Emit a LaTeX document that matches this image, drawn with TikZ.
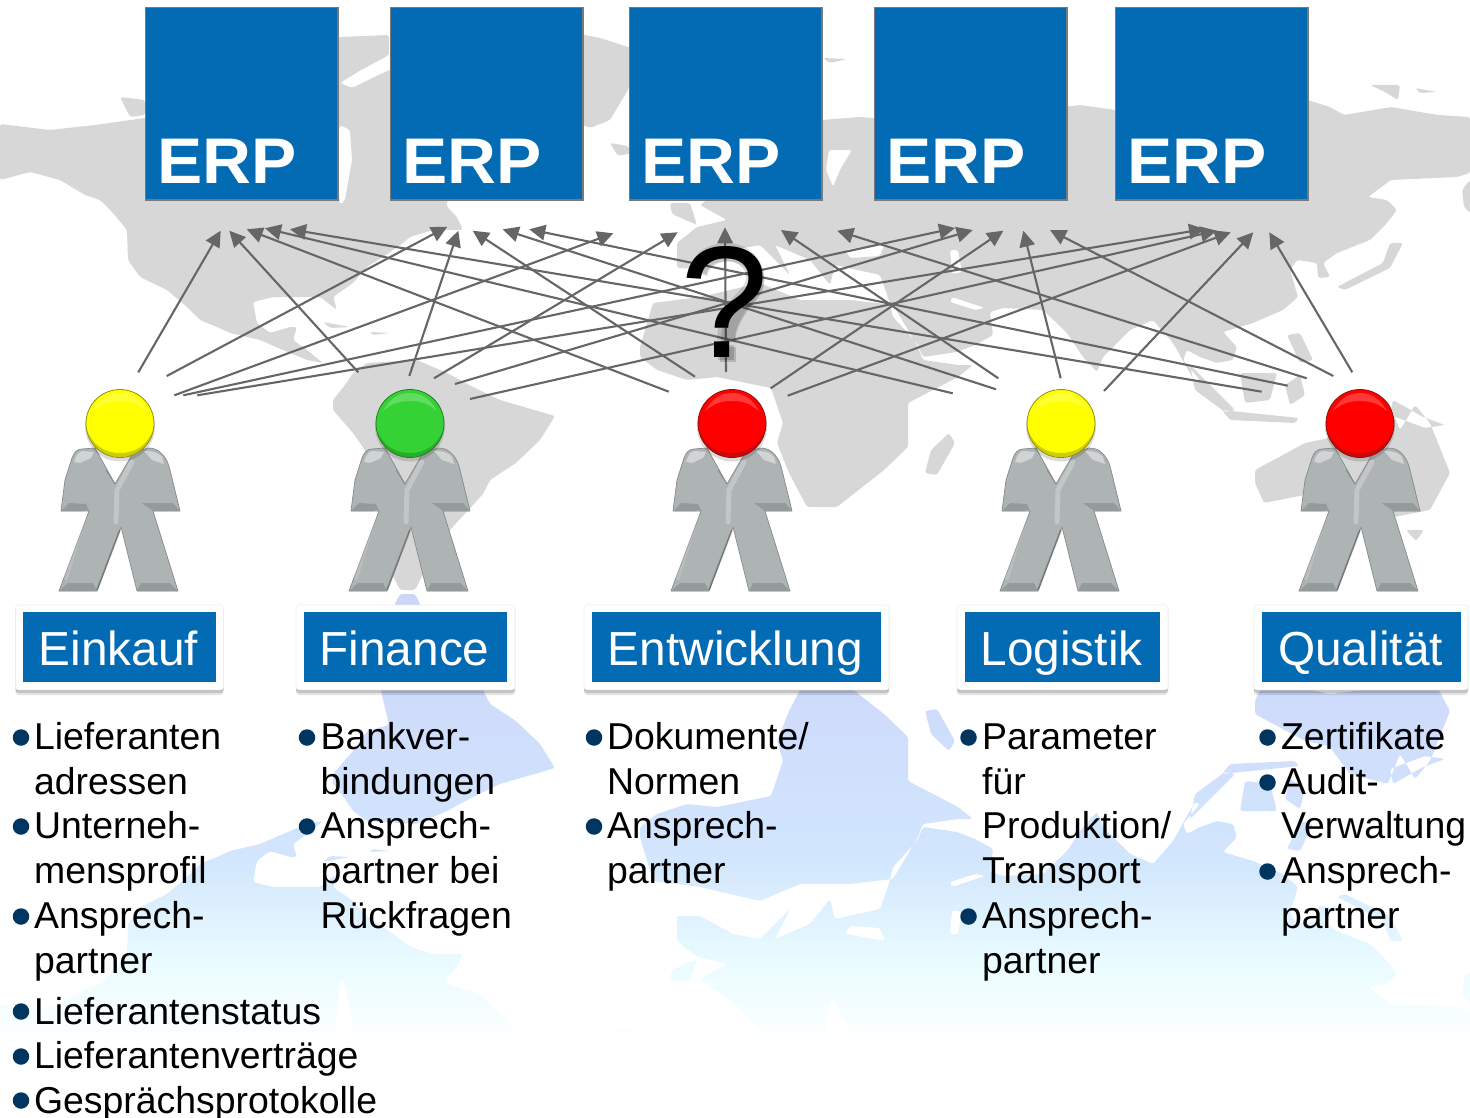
\documentclass[tikz,border=0pt]{standalone}
\usepackage{fontspec}
\setmainfont{Liberation Sans}
\usetikzlibrary{arrows.meta,shadows}
\definecolor{erpblue}{HTML}{036AB4}
\definecolor{mapgray}{HTML}{D7D7D7}
\definecolor{conngray}{HTML}{666666}
\definecolor{bulletblue}{HTML}{003560}
\definecolor{bodygray}{HTML}{AEB3B3}
\definecolor{bodydark}{HTML}{858A8A}
\definecolor{bodylight}{HTML}{D0D4D4}
\definecolor{refa}{HTML}{CCD4FA}
\definecolor{refb}{HTML}{D2E6FD}
\definecolor{refc}{HTML}{EAFCFF}
\newcommand{\mappath}{
 % North America
 (0,124) -- (50,130) -- (95,125) -- (145,118) -- (200,90) -- (300,60) -- (340,37) -- (389,35) -- (389,55) -- (361,70) -- (340,83) -- (352,88) -- (389,70) -- (450,60) -- (500,70) -- (530,100) -- (520,150) -- (480,190) -- (447,200) -- (447,207) -- (457,217) -- (463,230) -- (433,230) -- (410,237) -- (403,243) -- (383,257) -- (367,267) -- (353,283) -- (333,297) -- (337,310) -- (320,297) -- (273,297) -- (253,302) -- (257,323) -- (270,333) -- (290,327) -- (297,327) -- (293,340) -- (307,350) -- (323,363) -- (307,360) -- (283,350) -- (260,340) -- (230,333) -- (217,327) -- (200,320) -- (187,307) -- (167,290) -- (140,277) -- (128,260) -- (127,230) -- (113,213) -- (100,200) -- (85,195) -- (60,180) -- (30,172) -- (0,180) -- cycle
 % Hudson bay
 (340,125) -- (350,130) -- (352,160) -- (345,200) -- (340,205) -- (335,150) -- cycle
 % Arctic islands
 (120,97) -- (145,100) -- (145,115) -- (130,117) -- cycle
 % Greenland
 (560,30) -- (600,38) -- (628,47) -- (640,50) -- (628,90) -- (610,120) -- (590,128) -- (570,120) -- (540,80) -- cycle
 (610,143) -- (628,146) -- (632,153) -- (618,156) -- cycle
 % South America
 (333,400) -- (345,385) -- (353,373) -- (367,363) -- (417,360) -- (447,373) -- (473,387) -- (500,400) -- (555,416) -- (540,440) -- (516,463) -- (490,480) -- (483,494) -- (450,530) -- (430,560) -- (415,590) -- (400,590) -- (385,560) -- (385,520) -- (381,493) -- (389,459) -- (367,453) -- (353,433) -- (333,410) -- cycle
 (323,322) -- (350,327) -- (330,328) -- cycle
 (370,332) -- (390,333) -- (372,335) -- cycle
 % UK
 (670,203) -- (690,203) -- (697,225) -- (672,214) -- cycle
 % Eurasia
 (677,243) -- (697,227) -- (727,220) -- (700,205) -- (735,180) -- (780,130) -- (822,120) -- (860,117) -- (900,120) -- (1000,115) -- (1080,105) -- (1130,112) -- (1200,100) -- (1307,100) -- (1330,107) -- (1344,115) -- (1391,107) -- (1438,115) -- (1470,117) -- (1470,173) -- (1457,177) -- (1391,180) -- (1368,197) -- (1387,200) -- (1397,210) -- (1387,223) -- (1370,240) -- (1337,253) -- (1323,263) -- (1330,277) -- (1318,278) -- (1317,263) -- (1297,260) -- (1290,270) -- (1298,297) -- (1283,310) -- (1253,323) -- (1223,332) -- (1237,347) -- (1233,360) -- (1217,363) -- (1200,357) -- (1187,350) -- (1183,360) -- (1200,380) -- (1195,382) -- (1173,343) -- (1153,320) -- (1130,330) -- (1103,357) -- (1097,372) -- (1083,357) -- (1067,333) -- (1043,310) -- (1003,308) -- (990,312) -- (993,335) -- (975,345) -- (957,352) -- (923,357) -- (917,343) -- (893,317) -- (888,297) -- (880,275) -- (835,265) -- (830,285) -- (810,260) -- (775,245) -- (790,275) -- (760,245) -- (733,250) -- (700,268) -- (677,268) -- cycle
 % Caspian, Black Sea, Persian Gulf, Baltic
 (950,250) -- (958,250) -- (962,272) -- (952,274) -- cycle
 (845,250) -- (885,243) -- (880,256) -- (850,258) -- cycle
 (952,297) -- (985,308) -- (975,310) -- (950,302) -- cycle
 (829,150) -- (852,150) -- (840,170) -- (833,187) -- (826,170) -- cycle
 % Kamchatka side
 (1470,180) -- (1470,213) -- (1464,207) -- (1462,190) -- cycle
 % Novaya Zemlya and Arctic islands
 (823,58) -- (847,59) -- (830,63) -- cycle
 (1370,85) -- (1400,85) -- (1398,100) -- (1385,92) -- cycle
 (1415,88) -- (1437,92) -- (1420,93) -- cycle
 % Africa
 (640,347) -- (653,303) -- (700,297) -- (760,283) -- (800,300) -- (850,300) -- (893,305) -- (917,345) -- (923,360) -- (958,365) -- (973,365) -- (958,377) -- (908,403) -- (908,447) -- (884,470) -- (837,507) -- (807,507) -- (789,473) -- (777,443) -- (783,423) -- (771,388) -- (717,377) -- (687,380) -- (657,370) -- (640,357) -- cycle
 % Madagascar
 (949,433) -- (955,443) -- (937,475) -- (925,473) -- (931,450) -- cycle
 % Japan
 (1337,287) -- (1383,263) -- (1390,243) -- (1403,243) -- (1390,268) -- (1345,290) -- cycle
 % Indonesia, Philippines, New Guinea
 (1240,373) -- (1277,373) -- (1270,400) -- (1245,403) -- cycle
 (1190,365) -- (1225,400) -- (1235,410) -- (1225,412) -- (1195,390) -- cycle
 (1222,410) -- (1299,418) -- (1295,423) -- (1230,420) -- cycle
 (1287,335) -- (1300,333) -- (1313,360) -- (1300,363) -- cycle
 (1285,385) -- (1300,375) -- (1305,395) -- (1290,405) -- cycle
 (1393,400) -- (1423,417) -- (1445,425) -- (1425,428) -- (1390,415) -- cycle
 % Australia
 (1255,470) -- (1305,443) -- (1329,438) -- (1350,410) -- (1388,400) -- (1400,430) -- (1415,405) -- (1430,423) -- (1450,473) -- (1430,510) -- (1394,517) -- (1370,495) -- (1330,490) -- (1264,503) -- (1255,483) -- cycle
 (1406,530) -- (1424,530) -- (1416,541) -- cycle
}
\newcommand{\figbody}[1]{%
\begin{scope}[shift={(#1,0)}]
 \path[fill=bodygray,draw=bodydark,line width=.7pt,line join=round]
  (-25,448) -- (-5,484) -- (13,453) -- (28,448) to[out=0,in=130] (43,455) to[out=-50,in=105] (50,470) -- (60,511) -- (33,511) -- (58,591) -- (17,591) -- (1,527) -- (-23,591) -- (-61,591) -- (-31,511) -- (-59,511) -- (-55,480) -- (-48,458) to[out=70,in=180] (-38,449) -- cycle;
 \fill[bodydark!60!bodygray] (-59,511) -- (-31,511) -- (-34,504) -- (-51,503) -- cycle;
 \fill[bodydark!60!bodygray] (60,511) -- (33,511) -- (22,503) -- (53,503) -- cycle;
 \fill[bodydark!60!bodygray] (-61,591) -- (-23,591) -- (-27,583) -- (-52,583) -- cycle;
 \fill[bodydark!60!bodygray] (58,591) -- (17,591) -- (21,583) -- (50,583) -- cycle;
 \fill[bodylight] (-46,462) to[out=70,in=180] (-37,451) -- (-26,452) -- (-29,458) -- (-40,463) -- cycle;
 \fill[bodylight] (24,451) to[out=0,in=130] (42,457) -- (44,464) -- (32,460) -- cycle;
 \draw[white,opacity=.25,line width=5pt,line cap=round] (12,462) -- (-3,490) -- (-4,522);
 \draw[white,opacity=.15,line width=4pt,line cap=round] (-34,512) -- (-54,578);
 \draw[black,opacity=.22,line width=2pt] (-23,590) -- (0,530);
 \draw[bodydark,line width=.8pt] (-5,484) -- (-14,470);
\end{scope}}
\newcommand{\tline}[4]{\node[itemtext] (#1) at (#2-.6,#3-1) {#4};}
\newcommand{\bul}[3]{\node[bulletdot] (#1) at (#2,#3-.5) {};}
\tikzset{
 erpbox/.style={draw=gray!95!black,line width=1.4pt,fill=erpblue,inner sep=0pt,minimum width=192.4pt,minimum height=192.4pt,anchor=north west},
 erptext/.style={anchor=base west,inner sep=0pt,text=white,font=\fontsize{64.5pt}{66pt}\selectfont\bfseries},
 conn/.style={draw=conngray,line width=2.1pt,-{Triangle[length=16pt,width=15.5pt]}},
 softshadow/.style={drop shadow={shadow xshift=0pt,shadow yshift=-1pt,fill=black,opacity=.14},drop shadow={shadow xshift=0pt,shadow yshift=-3pt,fill=black,opacity=.14},drop shadow={shadow xshift=0pt,shadow yshift=-5pt,fill=black,opacity=.10}},
 outerbox/.style={fill=white,draw=black!7,line width=.6pt,rounded corners=3pt,inner sep=0pt,softshadow},
 labelbox/.style={fill=erpblue,inner sep=0pt,text=white,font=\fontsize{47.8pt}{50pt}\selectfont,text height=53pt,text depth=16.6pt,align=center},
 itemtext/.style={anchor=base west,inner sep=0pt,font=\fontsize{37.4pt}{44pt}\selectfont},
 bulletdot/.style={fill=bulletblue,circle,inner sep=0pt,minimum size=16.5pt},
 headball/.style={circle,inner sep=0pt,minimum size=68pt,line width=.8pt},
}
\begin{document}
\begin{tikzpicture}[x=1pt,y=-1pt]
\useasboundingbox (0,0) rectangle (1470,1118);
% map
\fill[mapgray,even odd rule,rounded corners=2.5pt] \mappath;
\begin{scope}[even odd rule,rounded corners=2.5pt,shift={(0,1184)},yscale=-1]
 \clip \mappath;
 \begin{scope}[sharp corners]
 \shade[top color=refa,bottom color=refb] (0,594) rectangle (1470,324);
 \shade[top color=refb,bottom color=refc] (0,324) rectangle (1470,219);
 \shade[top color=refc,bottom color=white] (0,219) rectangle (1470,139);
 \end{scope}
\end{scope}
% ERP boxes
\node[erpbox] (b1) at (145,7) {};
\node[erpbox] (b2) at (390,7) {};
\node[erpbox] (b3) at (629,7) {};
\node[erpbox] (b4) at (874,7) {};
\node[erpbox] (b5) at (1115,7) {};
\node[erptext] (et1) at (157,184) {\scalebox{1.05}[1]{ERP}};
\node[erptext] (et2) at (402,184) {\scalebox{1.05}[1]{ERP}};
\node[erptext] (et3) at (641,184) {\scalebox{1.05}[1]{ERP}};
\node[erptext] (et4) at (886,184) {\scalebox{1.05}[1]{ERP}};
\node[erptext] (et5) at (1127,184) {\scalebox{1.05}[1]{ERP}};
% connectors
\foreach \i/\j/\a/\b/\c/\d in {
 1/1/138.3/372.3/220.7/230.7, 1/2/166.7/376/447.3/226.7, 1/3/174.3/395.3/613.3/233.3, 1/4/183.3/395.3/955/228, 1/5/197.3/395.3/1205/229,
 2/1/358.3/372.3/229.3/230.7, 2/2/409.3/376/458.3/230.7, 2/3/434/378.3/677.7/232.3, 2/4/455/384/972.7/230, 2/5/470/399/1216.7/230.7,
 3/1/668.7/391.7/246.7/229.3, 3/2/695/376.7/472.7/230.7, 3/3/726/372/725/227.3, 3/4/770.7/388.3/1003.3/230.7, 3/5/787.7/395.7/1230.7/232.3,
 4/1/952.7/393.3/265/228.3, 4/2/996/389.3/502.7/229.3, 4/3/998.3/378.3/781/230, 4/4/1060.7/378.3/1023.3/230.7, 4/5/1104/391/1253.3/232.3,
 5/1/1261.7/391.7/290/229.3, 5/2/1287.7/385.7/529.3/229.3, 5/3/1306.7/378.3/837.3/230.7, 5/4/1333.3/376/1050/230, 5/5/1352.3/372.3/1269.3/232.3}{
 \coordinate (s\i\j) at (\a,\b);
 \coordinate (e\i\j) at (\c,\d);
 \draw[conn] (s\i\j) -- (e\i\j);
}
% question mark with a soft shadow
\foreach \o/\w in {2/18,4/15}{
 \begin{scope}[shift={(\o,\o)}]
 \draw[black,opacity=.13,line width=\w pt] (696,270) to[out=80,in=180] (725,250) to[out=0,in=90] (753,276) to[out=-90,in=60] (735,306) to[out=-120,in=90] (724,338);
 \fill[black,opacity=.16] (716,343) rectangle (732,358);
 \end{scope}
}
\node[anchor=base,inner sep=0pt,text=black,font=\fontsize{159pt}{159pt}\selectfont] (qm) at (724.5,357.5) {?};
% people
\figbody{120}\figbody{410}\figbody{732}\figbody{1061}\figbody{1360}
\foreach \n/\x/\c/\d in {1/120/FFFF00/8F8F10, 2/410/35D235/1E7F1E, 3/732/FF0000/8F1010, 4/1061/FFFF00/8F8F10, 5/1360/FF0000/8F1010}{
 \definecolor{hc}{HTML}{\c}\definecolor{hd}{HTML}{\d}
 \fill[black,opacity=.14] (\x,426.5) circle[radius=35];
 \node[headball,fill=hc,draw=hd] (h\n) at (\x,423.5) {};
 \fill[hd,opacity=.45] (\x-33,430) to[out=-80,in=180] (\x,457) to[out=0,in=-100] (\x+33,430) to[out=-110,in=0] (\x,453) to[out=180,in=-70] (\x-33,430) -- cycle;
 \fill[white,opacity=.22] (\x-27,411) to[out=60,in=180] (\x,393) to[out=0,in=120] (\x+27,411) to[out=140,in=0] (\x,401) to[out=180,in=40] (\x-27,411) -- cycle;
}
% labels
\node[outerbox,minimum width=208pt,minimum height=85pt] (o1) at (119.5,647.5) {};
\node[outerbox,minimum width=219pt,minimum height=85pt] (o2) at (405.5,647.5) {};
\node[outerbox,minimum width=305pt,minimum height=85pt] (o3) at (736.5,647.5) {};
\node[outerbox,minimum width=211pt,minimum height=85pt] (o4) at (1062.5,647.5) {};
\node[outerbox,minimum width=214pt,minimum height=85pt] (o5) at (1361,647.5) {};
\node[labelbox,minimum width=192.6pt] (l1) at (119.3,646.8) {\hspace*{-2pt}Einkauf};
\node[labelbox,minimum width=203pt] (l2) at (405.5,646.8) {\hspace*{-2pt}Finance};
\node[labelbox,minimum width=289pt] (l3) at (736.5,646.8) {\hspace*{-2pt}Entwicklung};
\node[labelbox,minimum width=195pt] (l4) at (1062.5,646.8) {\hspace*{-2pt}Logistik};
\node[labelbox,minimum width=199pt] (l5) at (1361.5,646.8) {\hspace*{-2pt}Qualität};
% Einkauf list
\bul{a1}{21}{738}\bul{a2}{21}{827}\bul{a3}{21}{917}\bul{a4}{21}{1012}\bul{a5}{21}{1057}\bul{a6}{21}{1101}
\tline{ta1}{34.5}{750}{Lieferanten}
\tline{ta2}{34.5}{795}{adressen}
\tline{ta3}{34.5}{839}{Unterneh-}
\tline{ta4}{34.5}{884}{mensprofil}
\tline{ta5}{34.5}{929}{Ansprech-}
\tline{ta6}{34.5}{974}{partner}
\tline{ta7}{34.5}{1025}{Lieferantenstatus}
\tline{ta8}{34.5}{1069}{Lieferantenverträge}
\tline{ta9}{34.5}{1114}{Gesprächsprotokolle}
% Finance list
\bul{f1}{307}{738}\bul{f2}{307}{827}
\tline{tf1}{321}{750}{Bankver-}
\tline{tf2}{321}{795}{bindungen}
\tline{tf3}{321}{839}{Ansprech-}
\tline{tf4}{321}{884}{partner bei}
\tline{tf5}{321}{929}{Rückfragen}
% Entwicklung list
\bul{n1}{594}{738}\bul{n2}{594}{827}
\tline{tn1}{607.5}{750}{Dokumente/}
\tline{tn2}{607.5}{795}{Normen}
\tline{tn3}{607.5}{839}{Ansprech-}
\tline{tn4}{607.5}{884}{partner}
% Logistik list
\bul{g1}{968.5}{738}\bul{g2}{968.5}{917}
\tline{tg1}{982.5}{750}{Parameter}
\tline{tg2}{982.5}{795}{für}
\tline{tg3}{982.5}{839}{Produktion/}
\tline{tg4}{982.5}{884}{Transport}
\tline{tg5}{982.5}{929}{Ansprech-}
\tline{tg6}{982.5}{974}{partner}
% Qualitaet list
\bul{q1}{1267.5}{738}\bul{q2}{1267.5}{783}\bul{q3}{1267.5}{872}
\tline{tq1}{1281.5}{750}{Zertifikate}
\tline{tq2}{1281.5}{795}{Audit-}
\tline{tq3}{1281.5}{839}{Verwaltung}
\tline{tq4}{1281.5}{884}{Ansprech-}
\tline{tq5}{1281.5}{929}{partner}
\end{tikzpicture}
\end{document}
